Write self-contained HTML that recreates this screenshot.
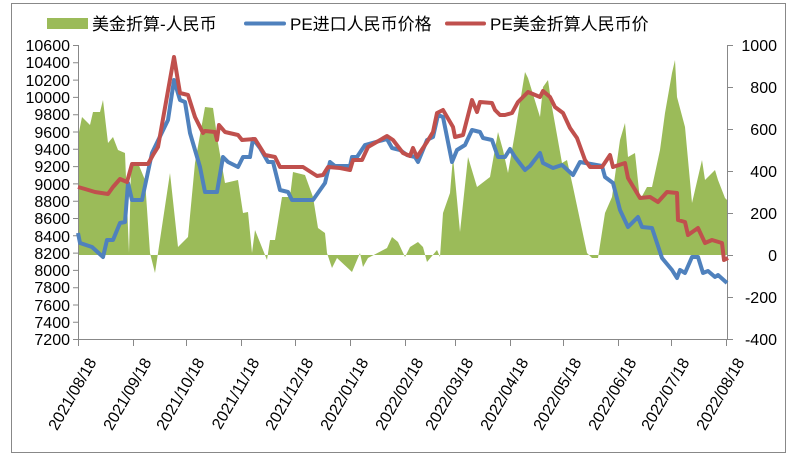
<!DOCTYPE html>
<html><head><meta charset="utf-8"><style>
html,body{margin:0;padding:0;background:#fff;}
svg{display:block;font-family:"Liberation Sans","Noto Sans CJK SC",sans-serif;}
</style></head><body>
<svg width="791" height="459" viewBox="0 0 791 459" xmlns="http://www.w3.org/2000/svg">
<rect x="11.5" y="3.5" width="774" height="449" fill="#fff" stroke="#888" stroke-width="1"/>
<polygon fill="#9BBB59" points="78,255 78,137 82,117 90,125 93,112 100,112 103,100 108,143 113,137 118,150 125,153 129,253 131,167 138,163 145,180 150,253 155,273 158,253 170,173 178,247 188,237 195,163 205,107 213,108 218,143 225,183 238,180 243,213 248,212 252,253 255,230 267,260 270,240 275,240 282,197 290,197 293,172 305,175 313,197 318,228 325,233 327,253 332,268 337,258 352,272 360,253 363,267 368,258 387,248 392,237 398,242 405,257 410,247 418,242 423,247 427,262 437,250 440,257 443,213 450,193 453,157 460,232 468,157 477,187 490,177 498,132 503,150 508,173 515,133 525,72 528,78 540,117 543,87 548,80 552,107 562,163 567,160 573,187 587,253 592,258 598,258 605,213 612,197 620,140 625,123 628,157 635,153 640,200 647,187 652,187 660,150 665,113 672,73 675,60 677,97 685,127 692,203 702,160 705,180 715,170 718,180 725,198 727,200 727,255"/>
<g stroke="#888" stroke-width="1" fill="none">
<line x1="78.5" y1="45" x2="78.5" y2="340"/>
<line x1="78" y1="339.5" x2="728" y2="339.5"/>
<line x1="727.5" y1="45" x2="727.5" y2="340"/>
<path d="M73 45.5H78M73 62.8H78M73 80.1H78M73 97.4H78M73 114.7H78M73 132H78M73 149.3H78M73 166.6H78M73 183.9H78M73 201.2H78M73 218.5H78M73 235.8H78M73 253.1H78M73 270.4H78M73 287.7H78M73 305H78M73 322.3H78M73 339.5H78"/>
<path d="M727 45.5H733M727 87.5H733M727 129.5H733M727 171.5H733M727 213.5H733M727 255.5H733M727 297.5H733M727 339.5H733"/>
<path d="M78.5 340V346M133.5 340V346M186.5 340V346M241.5 340V346M295.5 340V346M350.5 340V346M405.5 340V346M455.5 340V346M510.5 340V346M563.5 340V346M618.5 340V346M671.5 340V346M726.5 340V346"/>
</g>
<polyline fill="none" stroke="#4F81BD" stroke-width="4" stroke-linejoin="round" points="78,233 80,243 92,247 103,257 107,240 113,240 120,223 125,222 128,183 132,200 142,200 152,153 168,120 174,80 180,100 185,102 190,133 200,167 205,192 217,192 223,157 228,162 238,167 243,157 250,157 253,139 260,148 268,162 273,162 280,190 288,192 292,200 313,200 325,183 330,162 335,166 350,166 352,157 357,157 365,145 387,139 392,148 400,150 407,155 415,157 418,162 427,140 433,137 438,115 443,117 452,162 457,150 465,145 472,130 480,132 483,138 492,140 498,157 505,157 510,149 515,157 525,170 530,166 540,153 543,163 553,168 562,165 573,175 580,162 602,166 605,177 613,183 620,210 628,227 638,217 642,227 652,228 662,258 672,270 677,278 680,270 685,273 692,257 698,257 703,273 708,271 715,277 718,275 727,283"/>
<polyline fill="none" stroke="#C0504D" stroke-width="4" stroke-linejoin="round" points="78,187 85,189 95,192 108,194 113,187 120,179 127,182 132,164 148,164 153,155 158,147 174,57 180,93 188,95 195,117 203,133 205,131 215,132 217,140 219,125 225,132 238,135 242,140 255,139 265,155 275,157 280,167 290,167 303,167 317,176 323,175 328,167 340,168 350,170 353,160 362,160 368,147 387,136 393,140 403,153 410,156 413,148 417,157 427,142 433,132 437,113 443,110 453,127 455,137 463,135 472,100 477,112 480,102 492,103 495,110 500,115 505,115 512,113 518,102 528,92 540,97 543,91 550,97 555,107 563,113 570,128 577,138 585,160 590,167 602,167 610,155 613,167 625,163 628,178 640,198 650,197 658,202 667,192 677,193 678,220 685,222 688,235 698,228 705,243 712,240 722,243 724,260 728,258"/>
<g font-size="16" fill="#000" text-anchor="end">
<text x="70" y="51">10600</text><text x="70" y="68">10400</text><text x="70" y="86">10200</text><text x="70" y="103">10000</text><text x="70" y="120">9800</text><text x="70" y="138">9600</text><text x="70" y="155">9400</text><text x="70" y="172">9200</text><text x="70" y="190">9000</text><text x="70" y="207">8800</text><text x="70" y="224">8600</text><text x="70" y="242">8400</text><text x="70" y="259">8200</text><text x="70" y="276">8000</text><text x="70" y="293">7800</text><text x="70" y="311">7600</text><text x="70" y="328">7400</text><text x="70" y="345">7200</text>
</g>
<g font-size="16" fill="#000" text-anchor="end">
<text x="777" y="51">1000</text><text x="777" y="93">800</text><text x="777" y="135">600</text><text x="777" y="177">400</text><text x="777" y="219">200</text><text x="777" y="261">0</text><text x="777" y="303">-200</text><text x="777" y="345">-400</text>
</g>
<g font-size="16" fill="#000" text-anchor="end">
<text transform="translate(97,362) rotate(-60)">2021/08/18</text>
<text transform="translate(152,362) rotate(-60)">2021/09/18</text>
<text transform="translate(205,362) rotate(-60)">2021/10/18</text>
<text transform="translate(260,362) rotate(-60)">2021/11/18</text>
<text transform="translate(314,362) rotate(-60)">2021/12/18</text>
<text transform="translate(369,362) rotate(-60)">2022/01/18</text>
<text transform="translate(424,362) rotate(-60)">2022/02/18</text>
<text transform="translate(474,362) rotate(-60)">2022/03/18</text>
<text transform="translate(529,362) rotate(-60)">2022/04/18</text>
<text transform="translate(582,362) rotate(-60)">2022/05/18</text>
<text transform="translate(637,362) rotate(-60)">2022/06/18</text>
<text transform="translate(690,362) rotate(-60)">2022/07/18</text>
<text transform="translate(745,362) rotate(-60)">2022/08/18</text>
</g>
<rect x="47" y="18" width="41" height="11" fill="#9BBB59"/>
<text x="92" y="30" font-size="17" fill="#000">美金折算-人民币</text>
<line x1="246" y1="23.5" x2="284" y2="23.5" stroke="#4F81BD" stroke-width="4" stroke-linecap="round"/>
<text x="290" y="30" font-size="17" fill="#000">PE进口人民币价格</text>
<line x1="447" y1="23.5" x2="484" y2="23.5" stroke="#C0504D" stroke-width="4" stroke-linecap="round"/>
<text x="490" y="30" font-size="17" fill="#000">PE美金折算人民币价</text>
</svg>
</body></html>
